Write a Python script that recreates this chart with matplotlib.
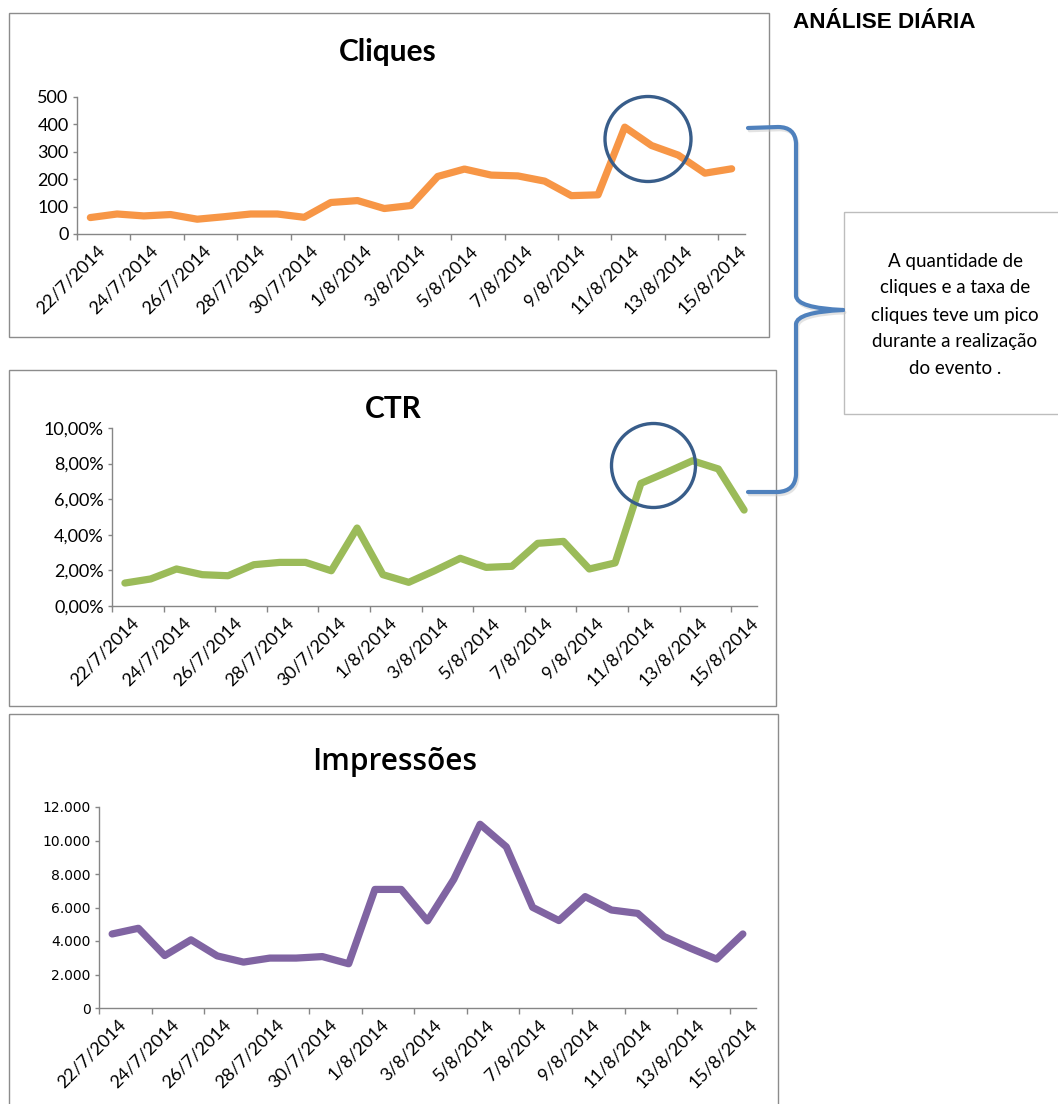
import matplotlib
matplotlib.use("Agg")
import matplotlib.pyplot as plt
import matplotlib.transforms as mt
from matplotlib.patches import Rectangle, Ellipse, PathPatch
from matplotlib.path import Path
from matplotlib.ticker import FuncFormatter

# ---------------- data ----------------
dates = ['22/7/2014', '23/7/2014', '24/7/2014', '25/7/2014', '26/7/2014',
         '27/7/2014', '28/7/2014', '29/7/2014', '30/7/2014', '31/7/2014',
         '1/8/2014', '2/8/2014', '3/8/2014', '4/8/2014', '5/8/2014',
         '6/8/2014', '7/8/2014', '8/8/2014', '9/8/2014', '10/8/2014',
         '11/8/2014', '12/8/2014', '13/8/2014', '14/8/2014', '15/8/2014']

cliques = [60, 73, 66, 71, 54, 63, 73, 73, 61, 115, 122, 93, 104, 210, 237,
           215, 212, 193, 140, 143, 390, 323, 288, 222, 238]

ctr = [1.29, 1.52, 2.08, 1.76, 1.70, 2.32, 2.45, 2.45, 1.98, 4.38, 1.76, 1.33,
       1.98, 2.68, 2.17, 2.23, 3.52, 3.63, 2.08, 2.42, 6.89, 7.51, 8.16, 7.70, 5.39]

impressoes = [4420, 4760, 3130, 4070, 3110, 2740, 2980, 2980, 3070, 2640, 7080,
              7080, 5200, 7680, 10970, 9620, 6010, 5220, 6650, 5850, 5650, 4270,
              3570, 2920, 4420]

titles = ['Cliques', 'CTR', 'Impressões']
note_lines = ['A quantidade de', 'cliques e a taxa de', 'cliques teve um pico',
              'durante a realização', 'do evento .']
header = 'ANÁLISE DIÁRIA'

# ---------------- layout helpers ----------------
W, H = 1058, 1104
fig = plt.figure(figsize=(W / 100, H / 100), dpi=100)
fig.patch.set_facecolor('white')


def box(x0, y0, x1, y1):
    return [x0 / W, 1 - y1 / H, (x1 - x0) / W, (y1 - y0) / H]


bg = fig.add_axes([0, 0, 1, 1], zorder=0)
bg.set_xlim(0, W)
bg.set_ylim(H, 0)
bg.axis('off')

for (x0, y0, x1, y1) in [(9, 13, 769, 337), (9, 370, 776, 706), (9, 714, 778, 1112)]:
    bg.add_patch(Rectangle((x0, y0), x1 - x0, y1 - y0, fill=False,
                           ec='#8c8c8c', lw=1.0))
bg.add_patch(Rectangle((844, 212), 230, 202, fill=False, ec='#bdbdbd', lw=1.0))

AX_COL = '#868686'
n = len(dates)
xs = list(range(n))


def style_axes(ax, xfont, xsize, yfont, ysize, lab_dx, lab_pad):
    ax.set_facecolor('none')
    for s in ['top', 'right']:
        ax.spines[s].set_visible(False)
    for s in ['left', 'bottom']:
        ax.spines[s].set_color(AX_COL)
        ax.spines[s].set_linewidth(1.0)
    ax.set_xlim(-0.5, n - 0.5)
    ax.set_xticks([i - 0.5 for i in range(0, n, 2)])
    ax.set_xticklabels([])
    ax.set_xticks(list(range(0, n, 2)), minor=True)
    ax.set_xticklabels([dates[i] for i in range(0, n, 2)], minor=True,
                       rotation=45, ha='right', va='top',
                       rotation_mode='anchor', fontfamily=xfont, fontsize=xsize)
    ax.tick_params(axis='x', which='major', direction='out', length=4.3,
                   color=AX_COL, width=1.0)
    ax.tick_params(axis='x', which='minor', length=0, pad=lab_pad)
    ax.tick_params(axis='y', direction='out', length=3, color=AX_COL,
                   width=1.0, pad=3)
    for t in ax.get_yticklabels():
        t.set_fontfamily(yfont)
        t.set_fontsize(ysize)
    off = mt.ScaledTranslation(lab_dx / 100, 0, fig.dpi_scale_trans)
    for t in ax.get_xticklabels(minor=True):
        t.set_transform(t.get_transform() + off)


LW = 5.2

# ---------- Cliques ----------
ax1 = fig.add_axes(box(77, 97, 745, 234), zorder=1)
ax1.plot(xs, cliques, color='#F79646', lw=LW, solid_joinstyle='round',
         solid_capstyle='round')
ax1.set_ylim(0, 500)
ax1.set_yticks(range(0, 501, 100))
style_axes(ax1, 'Lato', 13, 'Lato', 13, 6, 6)
fig.text(388 / W, 1 - 52 / H, titles[0], ha='center', va='center',
         fontfamily='Lato', fontweight='bold', fontsize=21.5)

# ---------- CTR ----------
ax2 = fig.add_axes(box(112, 428, 757, 606), zorder=1)
ax2.plot(xs, ctr, color='#9BBB59', lw=LW, solid_joinstyle='round',
         solid_capstyle='round')
ax2.set_ylim(0, 10)
ax2.set_yticks(range(0, 11, 2))
ax2.yaxis.set_major_formatter(FuncFormatter(lambda v, p: f'{v:.2f}%'.replace('.', ',')))
style_axes(ax2, 'Lato', 13, 'Lato', 13, 6, 6)
fig.text(393 / W, 1 - 409 / H, titles[1], ha='center', va='center',
         fontfamily='Lato', fontweight='bold', fontsize=21.5)

# ---------- Impressões ----------
ax3 = fig.add_axes(box(99, 807, 756, 1008), zorder=1)
ax3.plot(xs, impressoes, color='#8064A2', lw=LW, solid_joinstyle='round',
         solid_capstyle='round')
ax3.set_ylim(0, 12000)
ax3.set_yticks(range(0, 12001, 2000))
ax3.yaxis.set_major_formatter(FuncFormatter(lambda v, p: f'{int(v):,}'.replace(',', '.')))
style_axes(ax3, 'Lato', 13, 'DejaVu Sans', 10, 6, 6)
fig.text(395 / W, 1 - 762 / H, titles[2], ha='center', va='center',
         fontfamily='Open Sans', fontweight='semibold', fontsize=21.5)

# ---------- overlay: circles, brace, notes ----------
ov = fig.add_axes([0, 0, 1, 1], zorder=5)
ov.set_xlim(0, W)
ov.set_ylim(H, 0)
ov.axis('off')
ov.patch.set_alpha(0)

for (cx, cy, w, h) in [(648, 139, 86, 85), (653.5, 465.5, 84, 84)]:
    ov.add_patch(Ellipse((cx, cy), w, h, fill=False, ec='#385D8A', lw=2.4))

verts = [(748, 128), (778, 127), (795, 127), (796, 143), (796, 296),
         (797, 308), (843, 310),
         (843, 310), (797, 312), (796, 324), (796, 475), (795, 491),
         (778, 492), (748, 492)]
codes = [Path.MOVETO, Path.LINETO, Path.CURVE3, Path.CURVE3, Path.LINETO,
         Path.CURVE3, Path.CURVE3,
         Path.MOVETO, Path.CURVE3, Path.CURVE3, Path.LINETO, Path.CURVE3,
         Path.CURVE3, Path.LINETO]
shadow = [(x + 1.5, y + 2.5) for (x, y) in verts]
ov.add_patch(PathPatch(Path(shadow, codes), fill=False, ec='#c8c8c8',
                       lw=2.6, alpha=0.5, capstyle='round'))
ov.add_patch(PathPatch(Path(verts, codes), fill=False, ec='#4F81BD',
                       lw=3.0, capstyle='round'))

for i, line in enumerate(note_lines):
    ov.text(955, 261 + i * 27, line, ha='center', va='center',
            fontfamily='Lato', fontsize=13.5, color='black')

ov.text(793, 22, header, ha='left', va='center', fontfamily='Liberation Sans',
        fontweight='bold', fontsize=16.2, color='black')

fig.savefig('out.png', dpi=100, facecolor='white')
